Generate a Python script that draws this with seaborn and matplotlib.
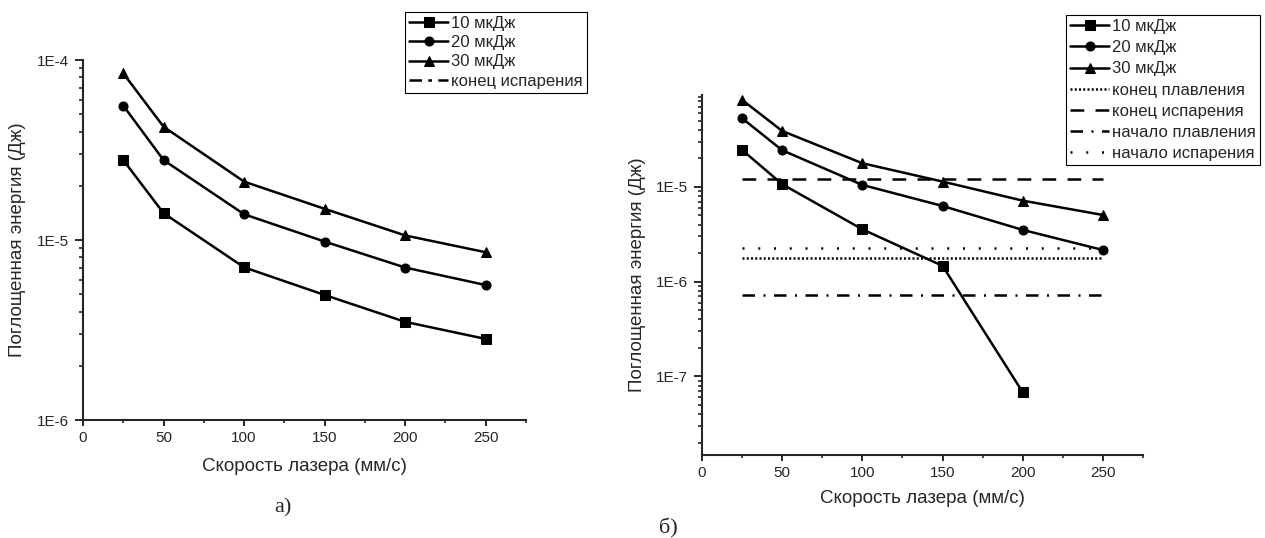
import numpy as np
import pandas as pd
import matplotlib
matplotlib.use("Agg")
import matplotlib.pyplot as plt
import seaborn as sns
from matplotlib.ticker import LogLocator, FuncFormatter, MultipleLocator, NullFormatter
from matplotlib.lines import Line2D

# ---------------- data ----------------
speeds = [25, 50, 100, 150, 200, 250]
series_labels = ["10 мкДж", "20 мкДж", "30 мкДж"]
series_markers = ["s", "o", "^"]

# panel a)
a_10 = [2.78e-5, 1.41e-5, 7.05e-6, 4.95e-6, 3.51e-6, 2.82e-6]
a_20 = [5.58e-5, 2.78e-5, 1.39e-5, 9.8e-6, 7.03e-6, 5.62e-6]
a_30 = [8.43e-5, 4.26e-5, 2.11e-5, 1.49e-5, 1.06e-5, 8.55e-6]

# panel б)
speeds_b10 = [25, 50, 100, 150, 200]
b_10 = [2.46e-5, 1.07e-5, 3.57e-6, 1.47e-6, 6.8e-8]
b_20 = [5.31e-5, 2.44e-5, 1.05e-5, 6.3e-6, 3.52e-6, 2.16e-6]
b_30 = [8.3e-5, 3.9e-5, 1.78e-5, 1.14e-5, 7.17e-6, 5.06e-6]

threshold_x = [25, 250]
threshold_labels = ["конец плавления", "конец испарения", "начало плавления", "начало испарения"]
threshold_values = [1.77e-6, 1.2e-5, 7.24e-7, 2.25e-6]

xlabel = "Скорость лазера (мм/с)"
ylabel = "Поглощенная энергия (Дж)"
captions = ["а)", "б)"]

# ---------------- style ----------------
sns.set_style("ticks")
plt.rcParams['font.family'] = ['Liberation Sans', 'DejaVu Sans']
plt.rcParams['axes.linewidth'] = 1.5

lw = 1.8
ms = 6.5
threshold_styles = [(0, (0.8, 0.9)), (0, (5.5, 4.5)), (0, (5, 3.4, 0.8, 3.4)), (0, (0.8, 5.5))]

W, H = 1265, 538
fig = plt.figure(figsize=(W / 100, H / 100), dpi=100)

def fig_rect(x0, y_top, x1, y_bot):
    return [x0 / W, 1 - y_bot / H, (x1 - x0) / W, (y_bot - y_top) / H]

ax_a = fig.add_axes(fig_rect(83, 60, 526, 420))
ax_b = fig.add_axes(fig_rect(702, 95, 1143, 455))

def draw_series(ax, xs_list, ys_list):
    for xs, ys, lab, mk in zip(xs_list, ys_list, series_labels, series_markers):
        sns.lineplot(x=xs, y=ys, ax=ax, color="black", marker=mk, markersize=ms,
                     markeredgecolor="black", linewidth=lw, label=lab, legend=False)

draw_series(ax_a, [speeds, speeds, speeds], [a_10, a_20, a_30])
draw_series(ax_b, [speeds_b10, speeds, speeds], [b_10, b_20, b_30])

for val, lab, ls in zip(threshold_values, threshold_labels, threshold_styles):
    sns.lineplot(x=threshold_x, y=[val, val], ax=ax_b, color="black", linewidth=lw,
                 linestyle=ls, label=lab, legend=False)

def fmt(v, pos):
    e = int(round(np.log10(v)))
    return f"1E{e}"

for ax, ylim in [(ax_a, (1e-6, 1e-4)), (ax_b, (1.48e-8, 9.35e-5))]:
    ax.set_yscale("log")
    ax.set_ylim(*ylim)
    ax.set_xlim(0, 275)
    ax.xaxis.set_major_locator(MultipleLocator(50))
    ax.xaxis.set_minor_locator(MultipleLocator(25))
    ax.yaxis.set_major_locator(LogLocator(base=10))
    ax.yaxis.set_minor_locator(LogLocator(base=10, subs=np.arange(2, 10)))
    ax.yaxis.set_major_formatter(FuncFormatter(fmt))
    ax.yaxis.set_minor_formatter(NullFormatter())
    ax.tick_params(axis="x", which="major", length=4, width=1.4, labelsize=11, pad=4)
    ax.tick_params(axis="x", which="minor", length=2.5, width=1.2)
    ax.tick_params(axis="y", which="major", length=6, width=1.4, labelsize=11, pad=4)
    ax.tick_params(axis="y", which="minor", length=3, width=1.2)
    sns.despine(ax=ax)
    ax.set_xlabel(xlabel, fontsize=13.5)
    ax.set_ylabel(ylabel, fontsize=13.5)

ax_a.xaxis.set_label_coords(0.5, -0.105)
ax_a.yaxis.set_label_coords(-0.128, 0.5)
ax_b.xaxis.set_label_coords(0.5, -0.097)
ax_b.yaxis.set_label_coords(-0.128, 0.5)

# legends
h_a, l_a = ax_a.get_legend_handles_labels()
h_a.append(Line2D([], [], color="black", linewidth=lw, linestyle=(0, (5, 2.5, 1.5, 2.5))))
l_a.append(threshold_labels[1])
leg_kw = dict(loc="upper left", frameon=True, fancybox=False, fontsize=12,
              handlelength=2.35, handletextpad=0.15, borderpad=0.25, labelspacing=0.25,
              borderaxespad=0, numpoints=1, edgecolor="black", framealpha=1)
leg_a = fig.legend(h_a, l_a, bbox_to_anchor=(405 / W, 1 - 12 / H), **leg_kw)
leg_a.get_frame().set_linewidth(0.8)

h_b, l_b = ax_b.get_legend_handles_labels()
leg_kw_b = dict(leg_kw)
leg_kw_b["labelspacing"] = 0.37
leg_b = fig.legend(h_b, l_b, bbox_to_anchor=(1066 / W, 1 - 15 / H), **leg_kw_b)
leg_b.get_frame().set_linewidth(0.8)

fig.text(283 / W, 1 - 508 / H, captions[0], ha="center", va="center",
         fontsize=16, family=["Liberation Serif", "DejaVu Serif"])
fig.text(668 / W, 1 - 528 / H, captions[1], ha="center", va="center",
         fontsize=16, family=["Liberation Serif", "DejaVu Serif"])

fig.savefig("out.png", dpi=100)
